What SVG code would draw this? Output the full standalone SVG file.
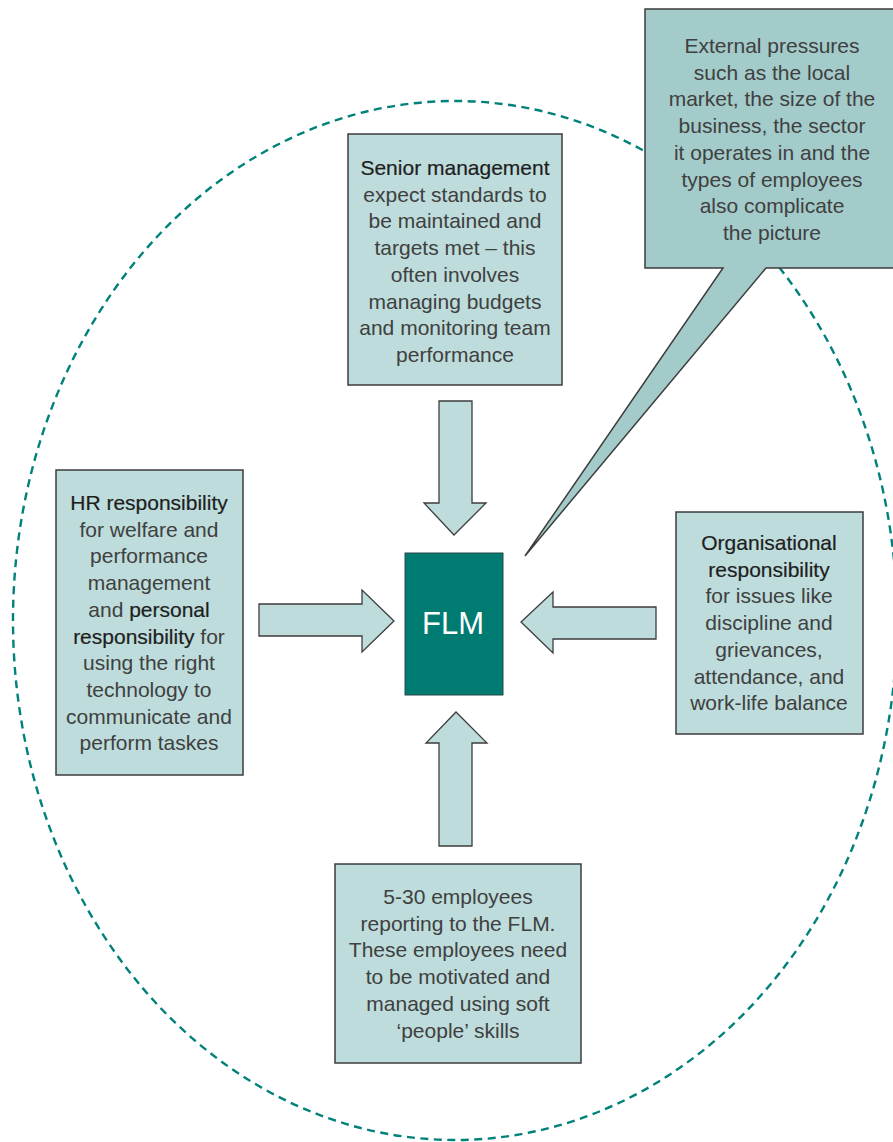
<svg xmlns="http://www.w3.org/2000/svg" width="893" height="1142" viewBox="0 0 893 1142">
<style>
.box{fill:#bddcdb;stroke:#3d3d3d;stroke-width:1.5}
.call{fill:#a3cbca;stroke:#3d3d3d;stroke-width:1.5}
.arr{fill:#bddcdb;stroke:#3d3d3d;stroke-width:1.3;stroke-linejoin:miter}
.t{font-family:"Liberation Sans",Arial,sans-serif;font-size:21px;fill:#404040;text-anchor:middle}
.b{fill:#1e1e1e;stroke:#1e1e1e;stroke-width:0.2}
</style>
<rect width="893" height="1142" fill="#ffffff"/>
<ellipse cx="455" cy="620.5" rx="442" ry="519.5" fill="none" stroke="#00817a" stroke-width="2.4" stroke-dasharray="8 5.5"/>
<g id="connectors">
<polygon class="arr" points="439,401 472,401 472,503 486,503 454,535 424,503 439,503"/>
<polygon class="arr" points="259,604 362,604 362,590 394,621 362,652 362,636 259,636"/>
<polygon class="arr" points="656,607 553,607 553,592 521,622 553,653 553,639 656,639"/>
<polygon class="arr" points="439,846 472,846 472,743 487,743 456,712 426,743 439,743"/>
</g>
<g id="external">
<path class="call" d="M645,9 L895,9 L895,268 L766,268 L525,556 L723,268 L645,268 Z"/>
<text class="t"><tspan x="772" y="53">External pressures</tspan><tspan x="772" y="79.7">such as the local</tspan><tspan x="772" y="106.4">market, the size of the</tspan><tspan x="772" y="133.1">business, the sector</tspan><tspan x="772" y="159.8">it operates in and the</tspan><tspan x="772" y="186.5">types of employees</tspan><tspan x="772" y="213.2">also complicate</tspan><tspan x="772" y="239.9">the picture</tspan></text>
</g>
<g id="senior">
<rect class="box" x="348" y="134" width="214" height="251"/>
<text class="t"><tspan x="455" y="175" class="b">Senior management</tspan><tspan x="455" y="201.7">expect standards to</tspan><tspan x="455" y="228.4">be maintained and</tspan><tspan x="455" y="255.1">targets met – this</tspan><tspan x="455" y="281.8">often involves</tspan><tspan x="455" y="308.5">managing budgets</tspan><tspan x="455" y="335.2">and monitoring team</tspan><tspan x="455" y="361.9">performance</tspan></text>
</g>
<g id="hr">
<rect class="box" x="56" y="470" width="187" height="305"/>
<text class="t"><tspan x="149" y="510" class="b">HR responsibility</tspan><tspan x="149" y="536.7">for welfare and</tspan><tspan x="149" y="563.4">performance</tspan><tspan x="149" y="590.1">management</tspan><tspan x="149" y="616.8">and <tspan class="b">personal</tspan></tspan><tspan x="149" y="643.5"><tspan class="b">responsibility</tspan> for</tspan><tspan x="149" y="670.2">using the right</tspan><tspan x="149" y="696.9">technology to</tspan><tspan x="149" y="723.6">communicate and</tspan><tspan x="149" y="750.3">perform taskes</tspan></text>
</g>
<g id="flm">
<rect x="405" y="553" width="98" height="142" fill="#007b72" stroke="#2a4a47" stroke-width="1"/>
<text x="453" y="634" font-family="'Liberation Sans',Arial,sans-serif" font-size="31" fill="#ffffff" text-anchor="middle">FLM</text>
</g>
<g id="organisational">
<rect class="box" x="676" y="512" width="187" height="222"/>
<text class="t"><tspan x="769" y="550" class="b">Organisational</tspan><tspan x="769" y="576.7" class="b">responsibility</tspan><tspan x="769" y="603.4">for issues like</tspan><tspan x="769" y="630.1">discipline and</tspan><tspan x="769" y="656.8">grievances,</tspan><tspan x="769" y="683.5">attendance, and</tspan><tspan x="769" y="710.2">work-life balance</tspan></text>
</g>
<g id="employees">
<rect class="box" x="335" y="864" width="246" height="199"/>
<text class="t"><tspan x="458" y="904">5-30 employees</tspan><tspan x="458" y="930.7">reporting to the FLM.</tspan><tspan x="458" y="957.4">These employees need</tspan><tspan x="458" y="984.1">to be motivated and</tspan><tspan x="458" y="1010.8">managed using soft</tspan><tspan x="458" y="1037.5">‘people’ skills</tspan></text>
</g>
</svg>
